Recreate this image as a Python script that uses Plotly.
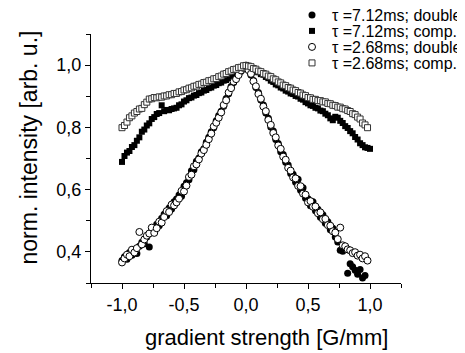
import plotly.graph_objects as go

gradient = [-1.00, -0.98, -0.96, -0.94, -0.92, -0.90, -0.88, -0.86, -0.84, -0.82,
            -0.80, -0.78, -0.76, -0.74, -0.72, -0.70, -0.68, -0.66, -0.64, -0.62,
            -0.60, -0.58, -0.56, -0.54, -0.52, -0.50, -0.48, -0.46, -0.44, -0.42,
            -0.40, -0.38, -0.36, -0.34, -0.32, -0.30, -0.28, -0.26, -0.24, -0.22,
            -0.20, -0.18, -0.16, -0.14, -0.12, -0.10, -0.08, -0.06, -0.04, -0.02,
            0.00, 0.02, 0.04, 0.06, 0.08, 0.10, 0.12, 0.14, 0.16, 0.18,
            0.20, 0.22, 0.24, 0.26, 0.28, 0.30, 0.32, 0.34, 0.36, 0.38,
            0.40, 0.42, 0.44, 0.46, 0.48, 0.50, 0.52, 0.54, 0.56, 0.58,
            0.60, 0.62, 0.64, 0.66, 0.68, 0.70, 0.72, 0.74, 0.76, 0.78,
            0.80, 0.82, 0.84, 0.86, 0.88, 0.90, 0.92, 0.94, 0.96, 0.98, 1.00]

double_712 = [0.372, 0.384, 0.376, 0.398, 0.389, 0.402, 0.395, 0.418, 0.431, 0.426,
              0.448, 0.416, 0.471, 0.466, 0.489, 0.484, 0.508, 0.521, 0.516, 0.541,
              0.538, 0.561, 0.570, 0.583, 0.579, 0.611, 0.622, 0.632, 0.661, 0.664,
              0.691, 0.702, 0.722, 0.731, 0.752, 0.768, 0.786, 0.799, 0.821, 0.838,
              0.852, 0.868, 0.893, 0.908, 0.931, 0.944, 0.958, 0.971, 0.980, 0.993,
              1.000, 0.987, 0.968, 0.951, 0.928, 0.912, 0.888, 0.872, 0.846, 0.829,
              0.801, 0.788, 0.761, 0.748, 0.722, 0.713, 0.688, 0.679, 0.652, 0.649,
              0.624, 0.633, 0.598, 0.606, 0.572, 0.571, 0.548, 0.561, 0.532, 0.537,
              0.511, 0.519, 0.492, 0.497, 0.471, 0.476, 0.448, 0.432, 0.405, 0.402,
              0.408, 0.331, 0.362, 0.352, 0.341, 0.328, 0.343, 0.316, 0.324, None, None]

comp_712 = [0.689, 0.708, 0.719, 0.724, 0.737, 0.743, 0.757, 0.768, 0.786, 0.793,
            0.806, 0.813, 0.827, 0.833, 0.843, 0.846, 0.871, 0.852, 0.856, 0.855,
            0.859, 0.861, 0.863, 0.871, 0.874, 0.883, 0.887, 0.894, 0.896, 0.902,
            0.904, 0.910, 0.912, 0.918, 0.920, 0.926, 0.928, 0.934, 0.936, 0.942,
            0.944, 0.950, 0.952, 0.958, 0.961, 0.968, 0.971, 0.979, 0.984, 0.994,
            1.000, 0.996, 0.989, 0.986, 0.979, 0.977, 0.971, 0.969, 0.962, 0.958,
            0.950, 0.946, 0.938, 0.935, 0.928, 0.925, 0.918, 0.915, 0.909, 0.907,
            0.901, 0.899, 0.892, 0.889, 0.881, 0.877, 0.871, 0.869, 0.863, 0.861,
            0.854, 0.852, 0.844, 0.839, 0.829, 0.823, 0.834, 0.831, 0.821, 0.814,
            0.804, 0.798, 0.788, 0.781, 0.769, 0.761, 0.749, 0.743, 0.736, 0.734, 0.731]

double_268 = [0.366, 0.379, 0.391, 0.386, 0.407, 0.398, 0.412, 0.464, 0.424, 0.440,
              0.452, 0.459, 0.478, 0.461, 0.476, 0.497, 0.494, 0.512, 0.531, 0.528,
              0.552, 0.549, 0.559, 0.571, 0.596, 0.594, 0.613, 0.641, 0.648, 0.675,
              0.681, 0.697, 0.716, 0.727, 0.744, 0.762, 0.780, 0.803, 0.815, 0.831,
              0.848, 0.872, 0.887, 0.912, 0.926, 0.947, 0.955, 0.968, 0.983, 0.991,
              0.998, 0.984, 0.972, 0.948, 0.932, 0.907, 0.892, 0.867, 0.852, 0.824,
              0.808, 0.782, 0.768, 0.742, 0.731, 0.706, 0.696, 0.670, 0.661, 0.639,
              0.636, 0.612, 0.611, 0.587, 0.584, 0.559, 0.563, 0.545, 0.546, 0.524,
              0.527, 0.505, 0.506, 0.486, 0.484, 0.466, 0.462, 0.441, 0.478, 0.421,
              0.418, 0.408, 0.405, 0.396, 0.399, 0.388, 0.391, 0.379, 0.386, 0.372, None]

comp_268 = [0.799, 0.806, 0.817, 0.831, 0.837, 0.846, 0.851, 0.859, 0.861, 0.873,
            0.881, 0.891, 0.892, 0.896, 0.895, 0.898, 0.897, 0.901, 0.901, 0.905,
            0.905, 0.909, 0.909, 0.914, 0.915, 0.920, 0.921, 0.926, 0.927, 0.932,
            0.933, 0.938, 0.939, 0.944, 0.945, 0.950, 0.951, 0.956, 0.957, 0.963,
            0.965, 0.971, 0.973, 0.979, 0.981, 0.986, 0.987, 0.992, 0.993, 0.998,
            0.999, 0.997, 0.995, 0.989, 0.987, 0.981, 0.979, 0.973, 0.971, 0.965,
            0.963, 0.956, 0.953, 0.946, 0.943, 0.936, 0.934, 0.928, 0.926, 0.920,
            0.918, 0.912, 0.910, 0.904, 0.902, 0.896, 0.895, 0.890, 0.890, 0.886,
            0.886, 0.882, 0.882, 0.877, 0.876, 0.871, 0.870, 0.865, 0.865, 0.860,
            0.859, 0.854, 0.851, 0.844, 0.841, 0.833, 0.827, 0.814, 0.808, 0.799, None]

series_names = ["\u03c4 =7.12ms; double", "\u03c4 =7.12ms; comp.",
                "\u03c4 =2.68ms; double", "\u03c4 =2.68ms; comp."]

x_tickvals = [-1.0, -0.5, 0.0, 0.5, 1.0]
x_ticktext = ["-1,0", "-0,5", "0,0", "0,5", "1,0"]
x_minor = [-1.25, -0.75, -0.25, 0.25, 0.75, 1.25]
y_tickvals = [0.4, 0.6, 0.8, 1.0]
y_ticktext = ["0,4", "0,6", "0,8", "1,0"]
y_minor = [0.3, 0.5, 0.7, 0.9, 1.1]

FONT = "Liberation Sans, Arial, sans-serif"

fig = go.Figure()
fig.add_trace(go.Scatter(x=gradient, y=double_712, mode="markers", name=series_names[0],
                         legend="legend",
                         marker=dict(symbol="circle", size=7, color="black",
                                     line=dict(width=0))))
fig.add_trace(go.Scatter(x=gradient, y=comp_712, mode="markers", name=series_names[1],
                         legend="legend2",
                         marker=dict(symbol="square", size=6, color="black",
                                     line=dict(width=0))))
fig.add_trace(go.Scatter(x=gradient, y=double_268, mode="markers", name=series_names[2],
                         legend="legend3",
                         marker=dict(symbol="circle", size=7, color="white",
                                     line=dict(width=1, color="black"))))
fig.add_trace(go.Scatter(x=gradient, y=comp_268, mode="markers", name=series_names[3],
                         legend="legend4",
                         marker=dict(symbol="square", size=6, color="white",
                                     line=dict(width=1, color="#333333"))))

# page body has an 8px margin; the figure is sized/placed to compensate
OFF = 8
W, H = 465 - OFF, 353 - OFF
PL, PT, PR, PB = 91, 34, 401, 283          # plot area in window pixels
L, T = PL - OFF, PT - OFF
R, B = W - (PR - OFF), H - (PB - OFF)
pw, ph = PR - PL, PB - PT

def px_to_paper_x(px):
    return (px - PL) / pw

def px_to_paper_y(py):
    return (PB - py) / ph

leg_common = dict(font=dict(family=FONT, size=16, color="black"),
                  bgcolor="rgba(0,0,0,0)", borderwidth=0,
                  xanchor="left", yanchor="middle", itemsizing="trace")
rows = [15, 31, 47, 63]
LEG_X = 292
fig.update_layout(
    showlegend=True,
    legend=dict(x=px_to_paper_x(LEG_X), y=px_to_paper_y(rows[0]), **leg_common),
    legend2=dict(x=px_to_paper_x(LEG_X), y=px_to_paper_y(rows[1]), **leg_common),
    legend3=dict(x=px_to_paper_x(LEG_X), y=px_to_paper_y(rows[2]), **leg_common),
    legend4=dict(x=px_to_paper_x(LEG_X), y=px_to_paper_y(rows[3]), **leg_common),
)

axis_common = dict(showline=True, linecolor="black", linewidth=1.2, mirror=False,
                   showgrid=False, zeroline=False, ticks="outside", ticklen=5,
                   tickwidth=1.2, tickcolor="black",
                   tickfont=dict(family=FONT, size=18, color="black"))

fig.update_xaxes(range=[-1.25, 1.25], tickmode="array", tickvals=x_tickvals,
                 ticktext=x_ticktext,
                 minor=dict(tickmode="array", tickvals=x_minor, ticks="outside",
                            ticklen=4, tickwidth=1.2, tickcolor="black", showgrid=False),
                 **axis_common)
fig.update_yaxes(range=[0.3, 1.1], tickmode="array", tickvals=y_tickvals,
                 ticktext=y_ticktext,
                 minor=dict(tickmode="array", tickvals=y_minor, ticks="outside",
                            ticklen=4, tickwidth=1.2, tickcolor="black", showgrid=False),
                 **axis_common)

fig.update_layout(
    width=W, height=H,
    margin=dict(l=L, r=R, t=T, b=B, pad=0, autoexpand=False),
    paper_bgcolor="white", plot_bgcolor="white",
    font=dict(family=FONT, color="black"),
    annotations=[
        dict(text="gradient strength [G/mm]", xref="paper", yref="paper",
             x=px_to_paper_x(266.5), y=px_to_paper_y(337), xanchor="center",
             yanchor="middle", showarrow=False,
             font=dict(family=FONT, size=22, color="black")),
        dict(text="norm. intensity [arb. u.]", xref="paper", yref="paper",
             x=px_to_paper_x(28), y=px_to_paper_y(147.5), xanchor="center",
             yanchor="middle", showarrow=False, textangle=-90,
             font=dict(family=FONT, size=23, color="black")),
    ],
)

fig.write_html("out.html")
